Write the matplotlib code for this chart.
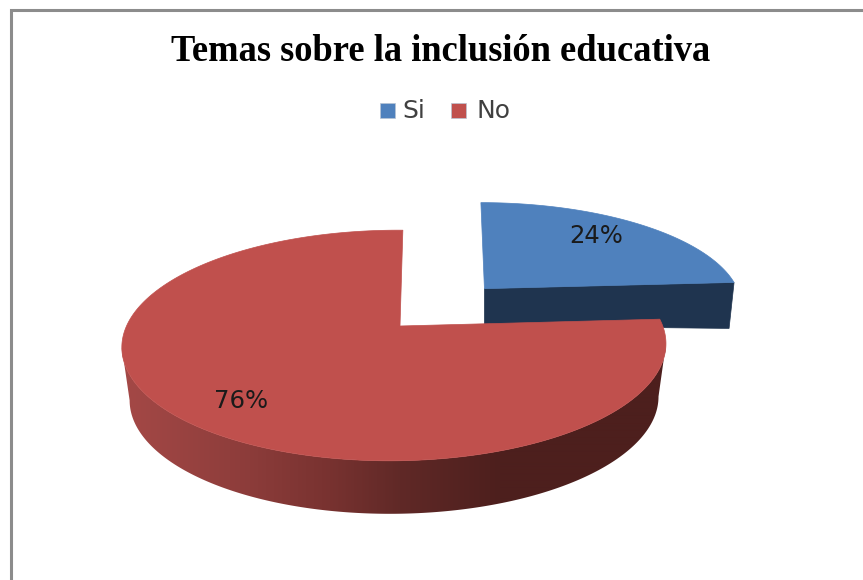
import numpy as np
import matplotlib
matplotlib.use("Agg")
import matplotlib.pyplot as plt
from matplotlib.patches import Polygon, Rectangle

title = "Temas sobre la inclusión educativa"
categories = ["Si", "No"]
values = [24, 76]
colors = ["#4f81bd", "#c0504d"]
side_blue = "#1f344f"
side_x = [130, 250, 330, 400, 500, 870]
side_r = [163, 140, 120, 96, 77, 77]
side_g = [72, 60, 50, 41, 31, 31]
side_b = [70, 58, 48, 39, 29, 29]

fig = plt.figure(figsize=(8.63, 5.80), dpi=100, facecolor="white")
ax = fig.add_axes([0, 0, 1, 1])

CX, CY, BX, BY, K = 400.0, 326.0, 268.0, 112.0, 0.169


def project(x, y, m=0.02, sk=0.03, dx=0.0):
    w = 1 + K * y + m * x
    sy = BY * y / w
    return CX + dx + BX * x / w + sk * sy, CY - sy


fractions = np.array(values, float) / sum(values)
ends = np.cumsum(fractions) * 2 * np.pi
starts = ends - fractions * 2 * np.pi

# exploded slice
explode = 0.485
s, e = starts[0], ends[0]
mid = (s + e) / 2
ox, oy = explode * np.sin(mid), explode * np.cos(mid)
th = np.linspace(s, e, 80)
bk = dict(m=0.0, sk=0.093, dx=-3.0)
px, py = project(ox + np.sin(th), oy + np.cos(th), **bk)
ax0, ay0 = project(ox, oy, **bk)
rx, ry = px[-1], py[-1]
D1 = 45
ax.add_patch(Polygon([(ax0, ay0), (rx, ry), (rx - 5, ry + D1 + 1), (ax0, ay0 + D1 - 8)],
                     fc=side_blue, ec=side_blue, lw=0.5, zorder=1))
ax.add_patch(Polygon(np.r_[[[ax0, ay0]], np.c_[px, py]], fc=colors[0], ec=colors[0], lw=0.5, zorder=2))

# main slice
s, e = starts[1], ends[1]
th = np.linspace(s, e, 720)
px, py = project(np.sin(th), np.cos(th))
D = 53
SC = 0.972
bx = CX + (px - CX) * SC
by = py + D
i0, i1 = int(np.argmax(px)), int(np.argmin(px))
outline = np.r_[np.c_[px[i0:i1 + 1], py[i0:i1 + 1]], np.c_[bx[i0:i1 + 1], by[i0:i1 + 1]][::-1]]
side_patch = Polygon(outline, fc="none", ec="none", zorder=3, transform=ax.transData)
ax.add_patch(side_patch)
grid = np.arange(100, 701)
grad = np.stack([np.interp(grid, side_x, side_r), np.interp(grid, side_x, side_g),
                 np.interp(grid, side_x, side_b)], axis=1)[None, :, :] / 255
im = ax.imshow(grad, extent=(100, 700, 530, 300), aspect="auto", zorder=3, interpolation="bilinear")
im.set_clip_path(side_patch)
ax.add_patch(Polygon(np.r_[[[CX, CY]], np.c_[px, py]], fc=colors[1], ec=colors[1], lw=0.5, zorder=4))

ax.set_xlim(0, 863)
ax.set_ylim(580, 0)
ax.axis("off")

# data labels
ax.text(596, 236, f"{values[0]}%", fontsize=17.5, color="#1a1a1a", ha="center", va="center", zorder=6)
ax.text(241, 401, f"{values[1]}%", fontsize=17.5, color="#1a1a1a", ha="center", va="center", zorder=6)

# title and legend
ax.text(441, 61, title, fontsize=26.3, fontweight="bold", family="Liberation Serif", color="black",
        ha="center", va="baseline")
for sx, tx, col, lab in zip([380, 451], [402.5, 476], colors, categories):
    ax.add_patch(Rectangle((sx, 103), 15, 15, fc=col, ec="#b8c4d4", lw=0.5))
    ax.text(tx, 118, lab, fontsize=18, color="#404040", ha="left", va="baseline")

# frame of the chart area
ax.plot([10.5, 10.5, 863], [580, 9.5, 9.5], color="#8c8c8c", lw=2.2, solid_joinstyle="miter", clip_on=False)

fig.savefig("out.png", dpi=100, facecolor="white")
